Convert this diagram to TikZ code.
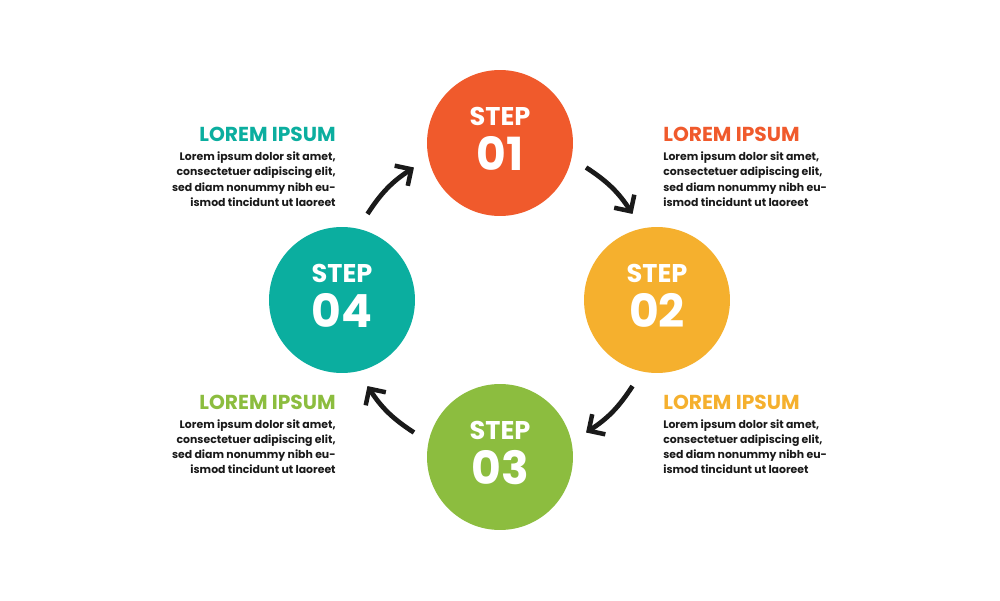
\documentclass[tikz,border=0pt]{standalone}
\usepackage{fontspec}
\setmainfont{Poppins}
\usetikzlibrary{positioning, arrows.meta, calc}

\definecolor{stepred}{HTML}{F05A2C}
\definecolor{stepyellow}{HTML}{F5B02E}
\definecolor{stepgreen}{HTML}{8CBD3F}
\definecolor{stepteal}{HTML}{0BAE9F}
\definecolor{bodyink}{HTML}{1A1A1A}

\begin{document}
\begin{tikzpicture}[
    x=0.02cm, y=0.02cm,
    >={Straight Barb[length=2.4mm, width=4.8mm, line width=0.9mm]},
    every node/.style = {inner sep=0pt},
    disc/.style       = {circle, minimum size=2.92cm},
    steptxt/.style    = {text=white, font=\fontsize{14.6}{15}\selectfont\bfseries},
    stepnum/.style    = {text=white, font=\fontsize{26}{26}\selectfont\bfseries},
    head/.style       = {font=\fontsize{11.5}{12}\selectfont\bfseries},
    blurb/.style      = {text=bodyink, font=\fontsize{6.2}{8.6}\selectfont\bfseries},
    flow/.style       = {->, line width=0.95mm, bodyink}
]
\fill[white] (0,0) rectangle (1000,600);
\useasboundingbox (0,0) rectangle (1000,600);

% Step discs
\coordinate (hub) at (500,300);
\node[disc, fill=stepred]    (c1) at (500,457) {};
\node[disc, fill=stepyellow] (c2) at (657,300) {};
\node[disc, fill=stepgreen]  (c3) at (500,143) {};
\node[disc, fill=stepteal]   (c4) at (342,300) {};

% Disc labels
\node[steptxt, anchor=base] (t1) at ($(c1)+(0,18)$)  {STEP};
\node[stepnum, anchor=base] (n1) at ($(c1)+(0,-27)$) {01};
\node[steptxt, anchor=base] (t2) at ($(c2)+(0,18)$)  {STEP};
\node[stepnum, anchor=base] (n2) at ($(c2)+(0,-27)$) {02};
\node[steptxt, anchor=base] (t3) at ($(c3)+(0,18)$)  {STEP};
\node[stepnum, anchor=base] (n3) at ($(c3)+(0,-27)$) {03};
\node[steptxt, anchor=base] (t4) at ($(c4)+(0,18)$)  {STEP};
\node[stepnum, anchor=base] (n4) at ($(c4)+(0,-27)$) {04};

% Curved arrows between the discs
\coordinate (a1s) at ($(hub)+(57:158)$);
\coordinate (a1e) at ($(hub)+(33:158)$);
\coordinate (a2s) at ($(hub)+(-33:158)$);
\coordinate (a2e) at ($(hub)+(-57:158)$);
\coordinate (a3s) at ($(hub)+(-123:158)$);
\coordinate (a3e) at ($(hub)+(-147:158)$);
\coordinate (a4s) at ($(hub)+(147:158)$);
\coordinate (a4e) at ($(hub)+(123:158)$);
\draw[flow] (a1s) to[bend left=12] (a1e);
\draw[flow] (a2s) to[bend left=12] (a2e);
\draw[flow] (a3s) to[bend left=12] (a3e);
\draw[flow] (a4s) to[bend left=12] (a4e);

% Text blocks, left side
\node[head, text=stepteal, anchor=base east] (h4) at (336,458.3) {LOREM IPSUM};
\node[blurb, align=right, below left=10 and 0 of h4.base east] (b4)
  {Lorem ipsum dolor sit amet,\\ consectetuer adipiscing elit,\\ sed diam nonummy nibh eu-\\ ismod tincidunt ut laoreet};
\node[head, text=stepgreen, anchor=base east] (h3) at (336,191) {LOREM IPSUM};
\node[blurb, align=right, below left=10 and 0 of h3.base east] (b3)
  {Lorem ipsum dolor sit amet,\\ consectetuer adipiscing elit,\\ sed diam nonummy nibh eu-\\ ismod tincidunt ut laoreet};

% Text blocks, right side
\node[head, text=stepred, anchor=base west] (h1) at (663,458.3) {LOREM IPSUM};
\node[blurb, align=left, below right=10 and 0 of h1.base west] (b1)
  {Lorem ipsum dolor sit amet,\\ consectetuer adipiscing elit,\\ sed diam nonummy nibh eu-\\ ismod tincidunt ut laoreet};
\node[head, text=stepyellow, anchor=base west] (h2) at (663,191) {LOREM IPSUM};
\node[blurb, align=left, below right=10 and 0 of h2.base west] (b2)
  {Lorem ipsum dolor sit amet,\\ consectetuer adipiscing elit,\\ sed diam nonummy nibh eu-\\ ismod tincidunt ut laoreet};

\end{tikzpicture}
\end{document}
